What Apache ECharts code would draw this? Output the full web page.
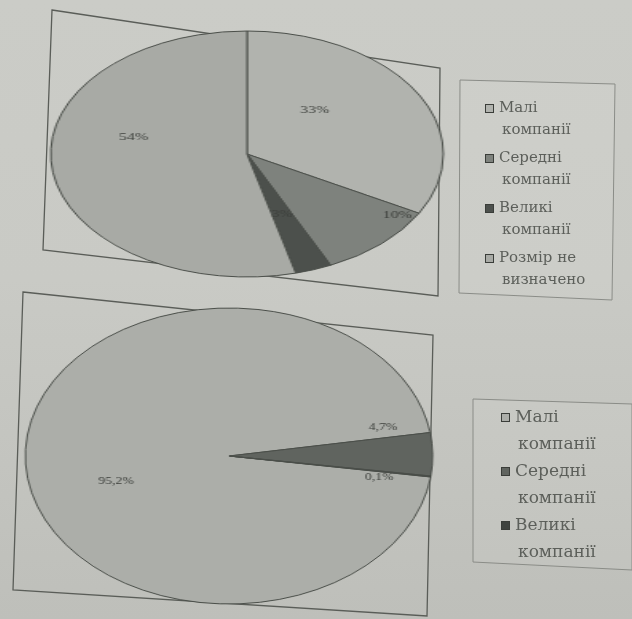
<!DOCTYPE html>
<html>
<head>
<meta charset="utf-8">
<script src="https://cdn.jsdelivr.net/npm/echarts@6/dist/echarts.min.js"></script>
<style>
  html, body { margin: 0; padding: 0; }
  #page {
    position: relative; width: 632px; height: 619px; overflow: hidden;
    background: linear-gradient(180deg, #cbccc7 0%, #c9cac5 45%, #bebfba 100%);
  }
  #bg { position: absolute; left: 0; top: 0; width: 632px; height: 619px; }
  .pie { position: absolute; }
</style>
</head>
<body>
<div id="page">
  <div id="bg"></div>
  <div id="pieTop" class="pie"></div>
  <div id="pieBot" class="pie"></div>
</div>
<script>
// top chart: share by company size (with undetermined)
const topNames = ["Малі компанії", "Середні компанії", "Великі компанії", "Розмір не визначено"];
const topValues = [33, 10, 3, 54];
const topLabels = ["33%", "10%", "3%", "54%"];

// bottom chart: share by company size
const botNames = ["Малі компанії", "Середні компанії", "Великі компанії"];
const botValues = [95.2, 4.7, 0.1];
const botLabels = ["95,2%", "4,7%", "0,1%"];

const topColors = ["#b1b3ae", "#7e827d", "#4c504c", "#a8aaa5"];
const botColors = ["#acaea9", "#60645f", "#3f433f"];

// label nudges (unscaled px) to mimic the spreadsheet's label placement
const topShift = [[-13, -11], [50, 14], [0, 0], [-7, -25]];
const botShift = [[-5, 25], [35, -28], [33, 11]];

const serif = "Liberation Serif";
const ink = "#3c3f3b";

// ellipse geometry: [cx, cy, rx, ry]
const topEll = [247, 154, 195.5, 122.5];
const botEll = [229, 456, 203, 147.5];

function placePie(el, ell) {
  const [cx, cy, rx, ry] = ell;
  const s = Math.ceil(ry) * 2 + 4;
  el.style.width = s + "px";
  el.style.height = s + "px";
  el.style.left = (cx - s / 2) + "px";
  el.style.top = (cy - s / 2) + "px";
  el.style.transformOrigin = "50% 50%";
  el.style.transform = `scaleX(${rx / ry})`;
}

function pieOption(names, values, labels, colors, shift, ry, startAngle) {
  return {
    animation: false,
    series: [{
      type: "pie",
      center: ["50%", "50%"],
      radius: ry,
      startAngle,
      clockwise: true,
      silent: true,
      itemStyle: { borderColor: "#4a4e49", borderWidth: 1 },
      label: {
        show: true,
        position: "inside",
        fontFamily: serif,
        fontSize: 10,
        color: ink,
        formatter: (p) => labels[p.dataIndex],
      },
      labelLine: { show: false },
      labelLayout: (p) => ({ dx: shift[p.dataIndex][0], dy: shift[p.dataIndex][1] }),
      emphasis: { disabled: true },
      data: names.map((n, i) => ({ name: n, value: values[i], itemStyle: { color: colors[i] } })),
    }],
  };
}

const pieTopEl = document.getElementById("pieTop");
const pieBotEl = document.getElementById("pieBot");
placePie(pieTopEl, topEll);
placePie(pieBotEl, botEll);

echarts.init(pieTopEl).setOption(
  pieOption(topNames, topValues, topLabels, topColors, topShift, Math.round(topEll[3]), 90));
echarts.init(pieBotEl).setOption(
  pieOption(botNames, botValues, botLabels, botColors, botShift, Math.round(botEll[3]), -8.15));

// legends + frames live on the unstretched background layer
function legendRich(colors, size, lh) {
  const rich = {
    t: { fontFamily: "DejaVu Serif", fontSize: size, lineHeight: lh, color: "#5c5f5a", padding: [0, 0, 0, 6] },
    u: { fontFamily: "DejaVu Serif", fontSize: size, lineHeight: lh, color: "#5c5f5a", padding: [0, 0, 0, 16] },
  };
  colors.forEach((c, i) => {
    rich["k" + i] = { width: 7, height: 7, backgroundColor: c, borderColor: "#3a3d39", borderWidth: 1, verticalAlign: "middle" };
  });
  return rich;
}

function legendFmt(names) {
  return (name) => {
    const i = names.indexOf(name);
    const parts = name.split(" ");
    const second = parts.pop();
    return `{k${i}|}{t|${parts.join(" ")}}\n{u|${second}}`;
  };
}

const frame = { stroke: "#5a5d58", lineWidth: 1.3, fill: null };
const boxStyle = { stroke: "#8a8c87", lineWidth: 1, fill: "rgba(255,255,255,0.06)" };

const bg = echarts.init(document.getElementById("bg"));
bg.setOption({
  animation: false,
  graphic: [
    { type: "polygon", shape: { points: [[52, 10], [440, 68], [438, 296], [43, 250]] }, style: frame, silent: true },
    { type: "polygon", shape: { points: [[23, 292], [433, 335], [427, 616], [13, 590]] }, style: frame, silent: true },
    { type: "polygon", shape: { points: [[460, 80], [615, 84], [612, 300], [459, 293]] }, style: boxStyle, silent: true },
    { type: "polygon", shape: { points: [[473, 399], [632, 404], [632, 570], [473, 562]] }, style: boxStyle, silent: true },
  ],
  legend: [
    {
      data: topNames,
      orient: "vertical",
      left: 476, top: 96,
      itemWidth: 0, itemHeight: 0, itemGap: 13,
      selectedMode: false,
      formatter: legendFmt(topNames),
      textStyle: { rich: legendRich(topColors, 15, 22) },
    },
    {
      data: botNames,
      orient: "vertical",
      left: 492, top: 404,
      itemWidth: 0, itemHeight: 0, itemGap: 10,
      selectedMode: false,
      formatter: legendFmt(botNames),
      textStyle: { rich: legendRich(botColors.slice(0, 3), 17, 27) },
    },
  ],
  series: [
    // off-canvas pies that only feed the legends
    {
      type: "pie", center: [-400, -400], radius: 1, silent: true, label: { show: false },
      data: topNames.map((n, i) => ({ name: n, value: topValues[i], itemStyle: { color: topColors[i] } })),
    },
    {
      type: "pie", center: [-400, -400], radius: 1, silent: true, label: { show: false },
      data: botNames.map((n, i) => ({ name: n, value: botValues[i], itemStyle: { color: botColors[i] } })),
    },
  ],
});
</script>
</body>
</html>
